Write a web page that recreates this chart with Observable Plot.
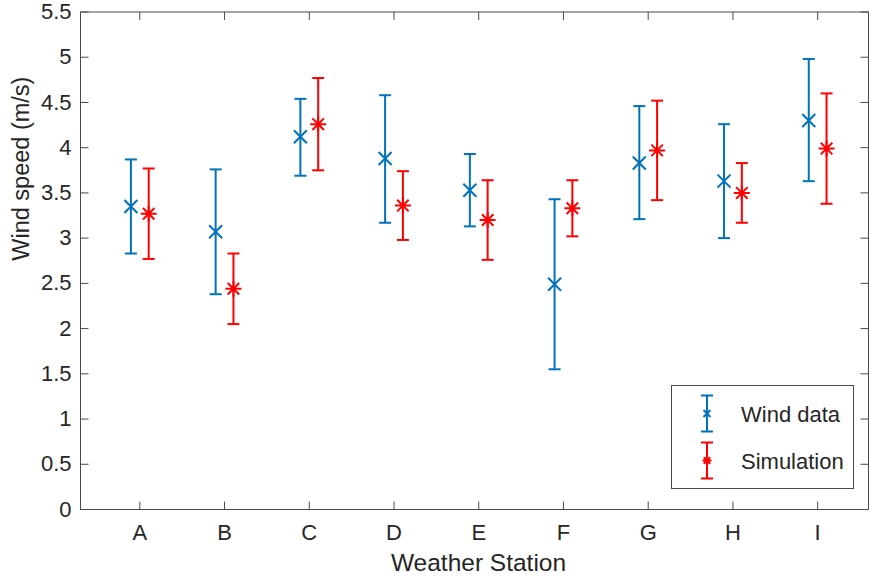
<!DOCTYPE html>
<html>
<head>
<meta charset="utf-8">
<script src="https://cdn.jsdelivr.net/npm/d3@7"></script>
<script src="https://cdn.jsdelivr.net/npm/@observablehq/plot@0.6"></script>
<style>
  body { margin: 0; background: #fff; font-family: "Liberation Sans", Arial, Helvetica, sans-serif; }
  #wrap { position: relative; width: 870px; height: 577px; }
  #legend { position: absolute; left: 671px; top: 385px; width: 184px; height: 105px; }
</style>
</head>
<body>
<div id="wrap"></div>
<script>
// ---- data ----
const stations = ["A", "B", "C", "D", "E", "F", "G", "H", "I"];
const windMean = [3.35, 3.07, 4.12, 3.88, 3.53, 2.49, 3.83, 3.63, 4.30];
const windLow  = [2.83, 2.38, 3.69, 3.17, 3.13, 1.55, 3.21, 3.00, 3.63];
const windHigh = [3.87, 3.76, 4.54, 4.58, 3.93, 3.43, 4.46, 4.26, 4.98];
const simMean  = [3.27, 2.44, 4.26, 3.36, 3.20, 3.33, 3.97, 3.50, 3.99];
const simLow   = [2.77, 2.05, 3.75, 2.98, 2.76, 3.02, 3.42, 3.17, 3.38];
const simHigh  = [3.77, 2.83, 4.77, 3.74, 3.64, 3.64, 4.52, 3.83, 4.60];
const yTicks   = [0, 0.5, 1, 1.5, 2, 2.5, 3, 3.5, 4, 4.5, 5, 5.5];
const seriesNames = ["Wind data", "Simulation"];

// ---- styling ----
const BLUE = "#0072BD", RED = "#FF0000", INK = "#262626", AXIS = "#4a4a4a";
const xDomain = [0.3, 9.6], yDomain = [0, 5.5];
const OFF = 0.105;

const xPos = stations.map((s, i) => i + 1);
const rows = (mean, lo, hi, off) => stations.map((s, i) => ({ x: i + 1 + off, mean: mean[i], lo: lo[i], hi: hi[i] }));
const wind = rows(windMean, windLow, windHigh, -OFF);
const sim = rows(simMean, simLow, simHigh, OFF);

// custom symbols (size = PI r^2)
const R = s => Math.sqrt(s / Math.PI);
const capSym = { draw(c, s) { const r = R(s); c.moveTo(-r, 0); c.lineTo(r, 0); } };
const timesSym = { draw(c, s) { const r = R(s); c.moveTo(-r, -r); c.lineTo(r, r); c.moveTo(-r, r); c.lineTo(r, -r); } };
const starSym = { draw(c, s) { const r = R(s), d = r * 0.72;
  c.moveTo(-r, 0); c.lineTo(r, 0); c.moveTo(0, -r); c.lineTo(0, r);
  c.moveTo(-d, -d); c.lineTo(d, d); c.moveTo(-d, d); c.lineTo(d, -d); } };
const tickUp = { draw(c, s) { const r = R(s); c.moveTo(0, 0); c.lineTo(0, -r); } };
const tickDown = { draw(c, s) { const r = R(s); c.moveTo(0, 0); c.lineTo(0, r); } };
const tickRight = { draw(c, s) { const r = R(s); c.moveTo(0, 0); c.lineTo(r, 0); } };
const tickLeft = { draw(c, s) { const r = R(s); c.moveTo(0, 0); c.lineTo(-r, 0); } };

const errMarks = (data, color, marker, mr) => [
  Plot.ruleX(data, { x: "x", y1: "lo", y2: "hi", stroke: color, strokeWidth: 2 }),
  Plot.dot(data, { x: "x", y: "lo", symbol: capSym, r: 6, fill: "none", stroke: color, strokeWidth: 2 }),
  Plot.dot(data, { x: "x", y: "hi", symbol: capSym, r: 6, fill: "none", stroke: color, strokeWidth: 2 }),
  Plot.dot(data, { x: "x", y: "mean", symbol: marker, r: mr, fill: "none", stroke: color, strokeWidth: 2 })
];

const chart = Plot.plot({
  width: 870,
  height: 577,
  marginLeft: 80,
  marginRight: 2,
  marginTop: 11.5,
  marginBottom: 68,
  style: { fontFamily: '"Liberation Sans", Arial, Helvetica, sans-serif', color: INK, background: "#fff", overflow: "visible" },
  x: { type: "linear", domain: xDomain },
  y: { type: "linear", domain: yDomain },
  marks: [
    Plot.axisX(xPos, { tickSize: 0, tickPadding: 15, fontSize: 22, tickFormat: d => stations[d - 1], label: null, color: INK }),
    Plot.axisY(yTicks, { tickSize: 0, tickPadding: 9, fontSize: 22, tickFormat: d => String(d), label: null, color: INK }),
    Plot.frame({ stroke: AXIS, strokeWidth: 1 }),
    Plot.dot(xPos, { x: d => d, y: () => yDomain[0], symbol: tickUp, r: 8, fill: "none", stroke: AXIS, strokeWidth: 1 }),
    Plot.dot(xPos, { x: d => d, y: () => yDomain[1], symbol: tickDown, r: 8, fill: "none", stroke: AXIS, strokeWidth: 1 }),
    Plot.dot(yTicks, { y: d => d, x: () => xDomain[0], symbol: tickRight, r: 8, fill: "none", stroke: AXIS, strokeWidth: 1 }),
    Plot.dot(yTicks, { y: d => d, x: () => xDomain[1], symbol: tickLeft, r: 8, fill: "none", stroke: AXIS, strokeWidth: 1 }),
    ...errMarks(wind, BLUE, timesSym, 6.5),
    ...errMarks(sim, RED, starSym, 8),
    Plot.text(["Weather Station"], { frameAnchor: "bottom", dy: 61, dx: 4, lineAnchor: "bottom", fontSize: 24.5, fill: INK, text: d => d }),
    Plot.text(["Wind speed (m/s)"], { frameAnchor: "left", dx: -52, rotate: -90, lineAnchor: "bottom", fontSize: 23.5, fill: INK, text: d => d })
  ]
});

const wrap = document.getElementById("wrap");
wrap.appendChild(chart);

// ---- legend (inside the axes, lower right) ----
const lg = d3.select(wrap).append("svg").attr("id", "legend").attr("width", 184).attr("height", 105);
lg.append("rect").attr("x", 0.5).attr("y", 0.5).attr("width", 182).attr("height", 103)
  .attr("fill", "#fff").attr("stroke", AXIS).attr("stroke-width", 1);
const items = [
  { name: seriesNames[0], color: BLUE, sym: timesSym, mr: 3.5, cy: 28.5, ty: 37 },
  { name: seriesNames[1], color: RED, sym: starSym, mr: 4.5, cy: 75.5, ty: 83.5 }
];
items.forEach(it => {
  const g = lg.append("g").attr("stroke", it.color).attr("stroke-width", 2).attr("fill", "none");
  const ix = 36;
  g.append("line").attr("x1", ix).attr("x2", ix).attr("y1", it.cy - 18).attr("y2", it.cy + 18);
  g.append("line").attr("x1", ix - 6).attr("x2", ix + 6).attr("y1", it.cy - 18).attr("y2", it.cy - 18);
  g.append("line").attr("x1", ix - 6).attr("x2", ix + 6).attr("y1", it.cy + 18).attr("y2", it.cy + 18);
  g.append("path").attr("transform", `translate(${ix},${it.cy})`)
    .attr("d", d3.symbol(it.sym, Math.PI * it.mr * it.mr)());
  lg.append("text").attr("x", 70).attr("y", it.ty).attr("fill", INK)
    .style("font-family", '"Liberation Sans", Arial, Helvetica, sans-serif').style("font-size", "22px")
    .text(it.name);
});
</script>
</body>
</html>
